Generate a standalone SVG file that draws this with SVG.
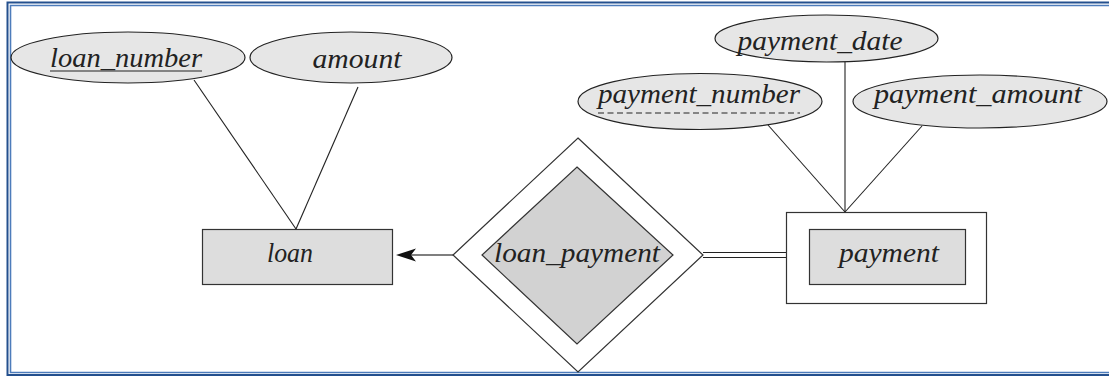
<svg xmlns="http://www.w3.org/2000/svg" width="1109" height="376" viewBox="0 0 1109 376">
<style>
.attr{fill:#e6e6e6;stroke:#222;stroke-width:1.2}
.ent{fill:#dddddd;stroke:#333;stroke-width:1.2}
.frame{fill:#fff;stroke:#333;stroke-width:1.2}
.lbl{font-family:"Liberation Serif","DejaVu Serif",serif;font-style:italic;font-size:27px;fill:#222;text-anchor:middle}
.con{stroke:#222;stroke-width:1.1;fill:none}
.bo{stroke:#24508e;stroke-width:2;fill:none}
.bi{stroke:#4d7cbb;stroke-width:1.6;fill:none}
</style>
<rect x="0" y="0" width="1109" height="376" fill="#fff"/>
<g id="border">
<path class="bo" d="M1109,2.5 H7.5 V376"/>
<path class="bi" d="M1109,5.5 H10.5 V372.5 H1109"/>
<path class="bo" d="M7.5,375 H1109"/>
</g>
<g id="connectors">
<line class="con" x1="194" y1="80" x2="296" y2="229"/>
<line class="con" x1="358" y1="87" x2="296" y2="229"/>
<line class="con" x1="768" y1="125" x2="845" y2="212"/>
<line class="con" x1="845" y1="62" x2="845" y2="212"/>
<line class="con" x1="922" y1="126" x2="845" y2="212"/>
<line x1="453" y1="255" x2="410" y2="255" stroke="#555" stroke-width="1.3"/>
<path d="M396,255 L416,248.5 L411,255 L416,261.5 Z" fill="#111"/>
<line class="con" x1="703" y1="252.5" x2="786" y2="252.5"/>
<line class="con" x1="703" y1="257.5" x2="786" y2="257.5"/>
</g>
<g id="loan_number">
<ellipse class="attr" cx="128" cy="57.5" rx="117" ry="25.5"/>
<text class="lbl" x="126" y="67" textLength="152" lengthAdjust="spacingAndGlyphs">loan_number</text>
<line x1="50" y1="71" x2="202" y2="71" stroke="#222" stroke-width="1"/>
</g>
<g id="amount">
<ellipse class="attr" cx="351" cy="57.5" rx="101" ry="25.5"/>
<text class="lbl" x="357" y="68" textLength="89" lengthAdjust="spacingAndGlyphs">amount</text>
</g>
<g id="payment_date">
<ellipse class="attr" cx="826.5" cy="38.5" rx="111.5" ry="23.5"/>
<text class="lbl" x="820" y="50" textLength="165" lengthAdjust="spacingAndGlyphs">payment_date</text>
</g>
<g id="payment_number">
<ellipse class="attr" cx="700" cy="101.5" rx="122" ry="28"/>
<text class="lbl" x="699" y="103" textLength="202" lengthAdjust="spacingAndGlyphs">payment_number</text>
<line x1="598" y1="113" x2="800" y2="113" stroke="#222" stroke-width="1" stroke-dasharray="6,3.5"/>
</g>
<g id="payment_amount">
<ellipse class="attr" cx="980" cy="101.5" rx="127" ry="26.5"/>
<text class="lbl" x="978" y="103" textLength="208" lengthAdjust="spacingAndGlyphs">payment_amount</text>
</g>
<g id="loan">
<rect class="ent" x="202.5" y="229.5" width="190" height="55"/>
<text class="lbl" x="290" y="262" textLength="46" lengthAdjust="spacingAndGlyphs">loan</text>
</g>
<g id="loan_payment">
<polygon class="frame" points="578,138 703,255 578,372 453,255"/>
<polygon class="ent" points="577,167 673,255 577,344 482,255" style="fill:#d2d2d2"/>
<text class="lbl" x="577" y="262" textLength="166" lengthAdjust="spacingAndGlyphs">loan_payment</text>
</g>
<g id="payment">
<rect class="frame" x="786.5" y="212.5" width="200" height="91"/>
<rect class="ent" x="809.5" y="229.5" width="156" height="55"/>
<text class="lbl" x="889" y="262" textLength="100" lengthAdjust="spacingAndGlyphs">payment</text>
</g>
</svg>
